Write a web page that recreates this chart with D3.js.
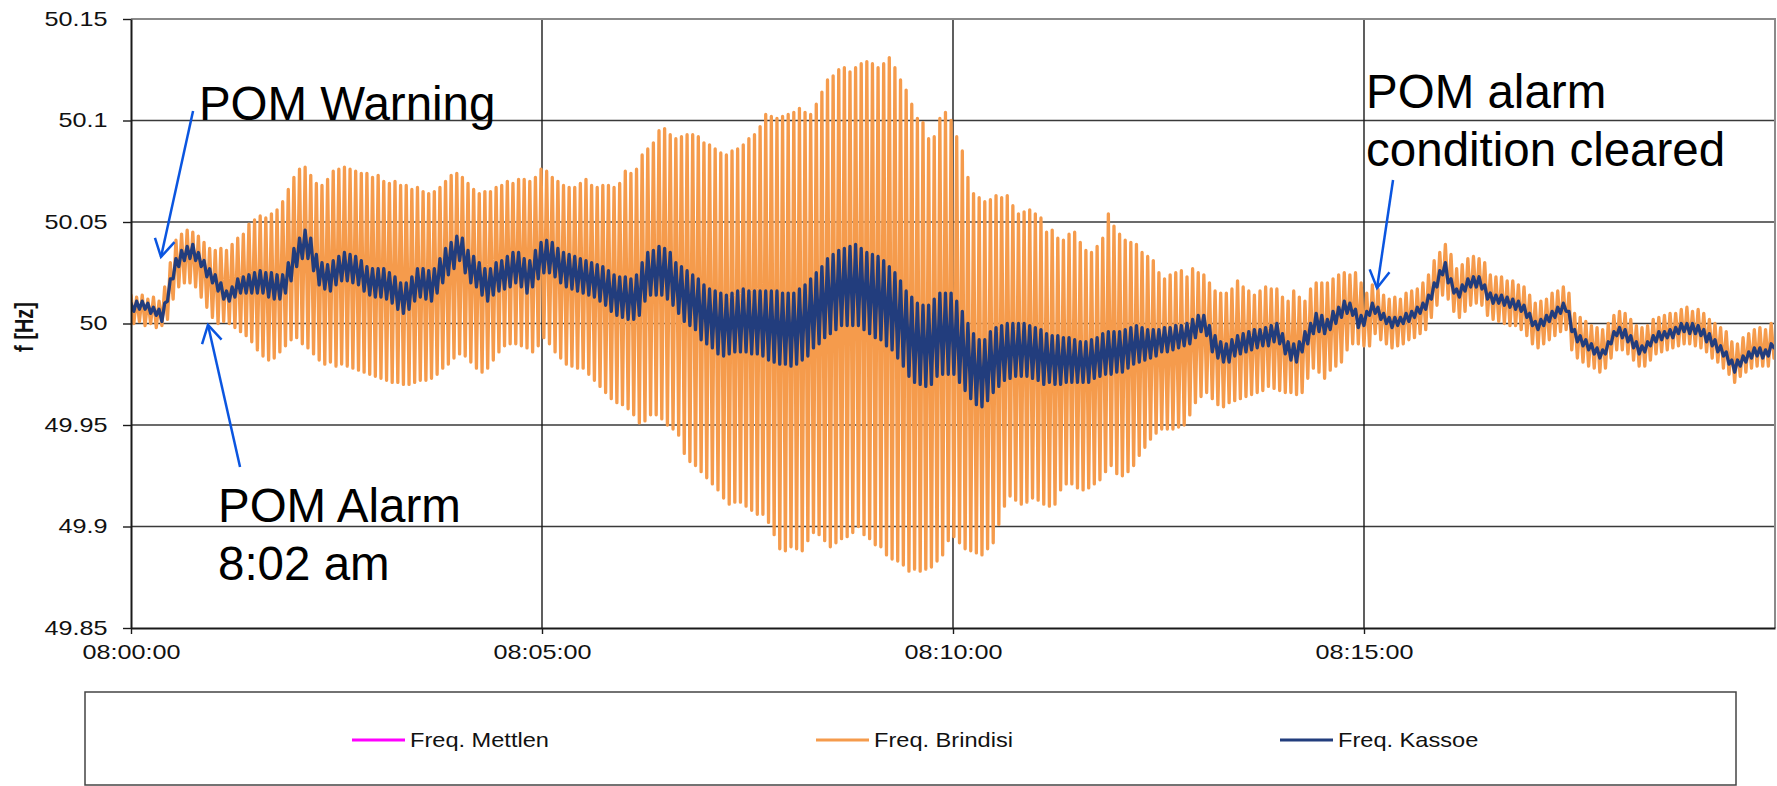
<!DOCTYPE html>
<html><head><meta charset="utf-8">
<script src="https://cdn.jsdelivr.net/npm/d3@7"></script>
<style>
body{margin:0;background:#fff}
svg{display:block}
text{font-family:"Liberation Sans",Arial,sans-serif}
</style>
</head><body>
<svg id="chart" width="1777" height="786"></svg>
<script>
// ---------------- data ----------------
const cycleSeconds = 4.1;            // one oscillation: a peak then a trough
const seriesNames = ["Freq. Mettlen", "Freq. Brindisi", "Freq. Kassoe"];
const seriesColors = ["#FF00FF", "#F59B4C", "#223D7D"];
const yTickValues = [49.85, 49.9, 49.95, 50, 50.05, 50.1, 50.15];
const xTickSeconds = [0, 300, 600, 900];
const xTickLabels = ["08:00:00", "08:05:00", "08:10:00", "08:15:00"];

const brindisiPeak = [
50.014,50.013,50.014,50.012,50.013,50.011,50.018,50.030,50.041,50.044,
50.046,50.045,50.043,50.040,50.037,50.036,50.037,50.036,50.039,50.042,
50.044,50.049,50.051,50.053,50.052,50.054,50.056,50.060,50.066,50.072,
50.076,50.077,50.073,50.069,50.068,50.071,50.075,50.076,50.077,50.076,
50.075,50.074,50.074,50.072,50.073,50.070,50.069,50.070,50.068,50.068,
50.066,50.067,50.065,50.064,50.065,50.067,50.070,50.073,50.074,50.072,
50.069,50.066,50.064,50.065,50.065,50.067,50.068,50.070,50.069,50.071,
50.071,50.070,50.072,50.076,50.075,50.072,50.070,50.068,50.067,50.067,
50.069,50.071,50.068,50.067,50.068,50.068,50.067,50.069,50.075,50.074,
50.076,50.083,50.086,50.089,50.095,50.096,50.093,50.091,50.092,50.093,
50.093,50.092,50.089,50.088,50.086,50.084,50.083,50.085,50.086,50.088,
50.091,50.093,50.097,50.103,50.102,50.101,50.102,50.103,50.104,50.106,
50.104,50.103,50.108,50.114,50.120,50.122,50.125,50.126,50.124,50.126,
50.128,50.129,50.128,50.126,50.128,50.131,50.126,50.120,50.115,50.108,
50.101,50.099,50.091,50.092,50.101,50.104,50.100,50.092,50.085,50.072,
50.064,50.062,50.060,50.061,50.063,50.062,50.063,50.058,50.054,50.055,
50.056,50.054,50.052,50.045,50.046,50.042,50.041,50.044,50.045,50.040,
50.036,50.035,50.038,50.042,50.054,50.048,50.044,50.041,50.040,50.039,
50.035,50.033,50.031,50.025,50.022,50.024,50.025,50.026,50.023,50.027,
50.025,50.024,50.020,50.016,50.015,50.015,50.017,50.021,50.018,50.016,
50.014,50.016,50.018,50.017,50.017,50.013,50.011,50.016,50.013,50.011,
50.017,50.020,50.020,50.020,50.022,50.024,50.025,50.024,50.025,50.020,
50.015,50.019,50.017,50.014,50.012,50.013,50.012,50.015,50.016,50.017,
50.020,50.024,50.031,50.035,50.039,50.034,50.027,50.029,50.032,50.033,
50.032,50.030,50.024,50.023,50.023,50.021,50.021,50.019,50.018,50.014,
50.010,50.011,50.012,50.015,50.016,50.018,50.015,50.005,50.003,50.001,
49.999,49.998,49.997,50.000,50.004,50.006,50.005,50.002,49.999,49.998,
49.999,50.002,50.003,50.004,50.005,50.005,50.007,50.008,50.006,50.007,
50.005,50.002,50.000,49.998,49.996,49.991,49.990,49.993,49.995,49.997,
49.998,49.997,50.000];

const brindisiTrough = [
50.000,50.001,49.999,50.000,49.998,49.999,50.002,50.012,50.018,50.020,
50.020,50.018,50.013,50.008,50.003,50.000,50.001,50.000,49.998,49.996,
49.994,49.991,49.987,49.984,49.982,49.983,49.986,49.989,49.992,49.993,
49.990,49.988,49.985,49.982,49.980,49.981,49.979,49.980,49.979,49.978,
49.977,49.976,49.975,49.974,49.973,49.972,49.971,49.971,49.970,49.970,
49.971,49.972,49.972,49.973,49.975,49.978,49.980,49.983,49.985,49.984,
49.981,49.978,49.976,49.978,49.982,49.986,49.989,49.990,49.990,49.989,
49.988,49.986,49.989,49.993,49.990,49.986,49.983,49.980,49.979,49.978,
49.978,49.975,49.972,49.969,49.966,49.963,49.961,49.960,49.958,49.955,
49.951,49.952,49.955,49.955,49.953,49.950,49.948,49.945,49.936,49.932,
49.930,49.927,49.924,49.921,49.918,49.914,49.911,49.912,49.912,49.910,
49.908,49.906,49.906,49.902,49.896,49.889,49.888,49.890,49.889,49.888,
49.893,49.897,49.896,49.893,49.890,49.892,49.894,49.895,49.897,49.900,
49.896,49.894,49.891,49.890,49.886,49.884,49.883,49.881,49.878,49.879,
49.878,49.879,49.880,49.883,49.886,49.893,49.895,49.892,49.889,49.888,
49.887,49.886,49.889,49.892,49.901,49.910,49.915,49.913,49.911,49.912,
49.914,49.913,49.911,49.910,49.911,49.918,49.921,49.921,49.919,49.918,
49.919,49.921,49.923,49.927,49.930,49.926,49.925,49.927,49.930,49.935,
49.939,49.943,49.946,49.948,49.948,49.948,49.949,49.950,49.955,49.961,
49.964,49.966,49.963,49.960,49.959,49.961,49.962,49.963,49.964,49.965,
49.966,49.967,49.969,49.968,49.967,49.966,49.966,49.965,49.966,49.973,
49.978,49.976,49.973,49.977,49.979,49.981,49.987,49.990,49.990,49.989,
49.989,49.995,49.992,49.990,49.988,49.989,49.990,49.992,49.993,49.995,
49.997,50.003,50.009,50.014,50.012,50.006,50.003,50.006,50.009,50.010,
50.009,50.004,50.002,50.001,50.000,49.999,49.999,49.997,49.994,49.990,
49.988,49.990,49.992,49.994,49.996,49.997,49.987,49.983,49.981,49.979,
49.978,49.976,49.978,49.983,49.987,49.987,49.985,49.982,49.979,49.979,
49.982,49.985,49.986,49.987,49.988,49.989,49.990,49.990,49.989,49.988,
49.986,49.983,49.981,49.978,49.975,49.971,49.974,49.976,49.978,49.979,
49.979,49.979,49.983];

const kassoePeak = [
50.010,50.011,50.011,50.010,50.008,50.007,50.010,50.022,50.032,50.036,
50.038,50.039,50.035,50.031,50.027,50.024,50.020,50.016,50.018,50.022,
50.023,50.024,50.025,50.026,50.025,50.025,50.024,50.024,50.030,50.037,
50.042,50.046,50.042,50.034,50.030,50.029,50.031,50.033,50.035,50.034,
50.033,50.031,50.028,50.027,50.027,50.027,50.025,50.023,50.020,50.020,
50.023,50.027,50.027,50.026,50.027,50.032,50.037,50.040,50.043,50.042,
50.036,50.033,50.030,50.027,50.027,50.030,50.031,50.033,50.035,50.035,
50.032,50.031,50.036,50.040,50.041,50.040,50.037,50.035,50.034,50.033,
50.032,50.031,50.030,50.029,50.028,50.026,50.024,50.023,50.023,50.022,
50.024,50.030,50.035,50.036,50.038,50.037,50.035,50.030,50.028,50.026,
50.024,50.022,50.019,50.017,50.016,50.015,50.014,50.015,50.016,50.017,
50.016,50.016,50.016,50.016,50.016,50.016,50.015,50.015,50.015,50.017,
50.019,50.022,50.025,50.028,50.032,50.034,50.036,50.037,50.038,50.039,
50.037,50.035,50.034,50.033,50.031,50.028,50.025,50.021,50.016,50.013,
50.010,50.009,50.009,50.012,50.015,50.015,50.015,50.011,50.006,50.000,
49.995,49.992,49.992,49.996,49.998,49.999,50.000,50.000,50.000,50.000,
49.999,49.998,49.997,49.995,49.994,49.994,49.993,49.993,49.992,49.991,
49.991,49.992,49.993,49.995,49.996,49.996,49.996,49.997,49.998,49.999,
49.998,49.997,49.997,49.997,49.998,49.998,49.999,49.999,50.000,50.002,
50.004,50.004,49.999,49.994,49.991,49.990,49.992,49.994,49.995,49.996,
49.997,49.997,49.998,49.999,50.000,49.995,49.991,49.990,49.991,49.996,
50.000,50.005,50.004,50.002,50.006,50.008,50.011,50.010,50.007,50.004,
50.006,50.010,50.008,50.005,50.003,50.003,50.003,50.005,50.006,50.008,
50.010,50.014,50.020,50.026,50.030,50.022,50.017,50.019,50.022,50.023,
50.023,50.019,50.015,50.014,50.014,50.013,50.012,50.011,50.009,50.005,
50.001,50.002,50.004,50.006,50.008,50.010,50.006,49.997,49.994,49.992,
49.990,49.988,49.987,49.991,49.996,49.998,49.997,49.994,49.991,49.989,
49.991,49.994,49.996,49.996,49.997,49.998,50.000,50.000,50.000,49.999,
49.997,49.995,49.992,49.989,49.986,49.982,49.982,49.984,49.986,49.988,
49.988,49.987,49.990];

const kassoeTrough = [
50.006,50.007,50.007,50.005,50.004,50.001,50.011,50.022,50.028,50.031,
50.032,50.031,50.028,50.023,50.020,50.016,50.012,50.011,50.013,50.015,
50.015,50.015,50.015,50.015,50.013,50.012,50.012,50.015,50.021,50.028,
50.032,50.032,50.026,50.019,50.017,50.016,50.019,50.021,50.021,50.020,
50.019,50.016,50.014,50.013,50.013,50.012,50.010,50.007,50.005,50.007,
50.011,50.013,50.012,50.011,50.015,50.020,50.024,50.027,50.031,50.025,
50.020,50.018,50.014,50.011,50.014,50.016,50.017,50.018,50.020,50.018,
50.015,50.018,50.022,50.025,50.025,50.023,50.020,50.018,50.017,50.016,
50.015,50.014,50.013,50.011,50.009,50.006,50.004,50.003,50.002,50.002,
50.004,50.011,50.014,50.014,50.014,50.012,50.009,50.005,50.001,49.999,
49.997,49.992,49.990,49.988,49.985,49.984,49.985,49.986,49.986,49.986,
49.985,49.985,49.984,49.982,49.981,49.980,49.980,49.979,49.980,49.982,
49.984,49.988,49.990,49.993,49.995,49.997,49.999,49.999,49.999,49.999,
49.997,49.995,49.993,49.992,49.989,49.987,49.983,49.979,49.974,49.971,
49.970,49.969,49.970,49.974,49.975,49.975,49.975,49.971,49.967,49.963,
49.960,49.959,49.962,49.966,49.969,49.972,49.973,49.974,49.974,49.974,
49.973,49.972,49.970,49.971,49.970,49.970,49.971,49.971,49.971,49.971,
49.971,49.973,49.974,49.975,49.975,49.976,49.976,49.978,49.980,49.981,
49.982,49.983,49.984,49.986,49.986,49.987,49.988,49.989,49.990,49.993,
49.996,49.994,49.986,49.983,49.981,49.981,49.984,49.985,49.986,49.987,
49.988,49.989,49.989,49.991,49.990,49.985,49.982,49.981,49.986,49.990,
49.995,49.996,49.995,49.997,50.000,50.003,50.005,50.004,49.998,49.999,
50.004,50.005,50.002,50.000,49.998,49.999,50.000,50.001,50.003,50.005,
50.007,50.012,50.018,50.024,50.020,50.015,50.013,50.016,50.018,50.018,
50.017,50.012,50.010,50.010,50.009,50.008,50.007,50.006,50.003,49.999,
49.997,49.999,50.001,50.003,50.005,50.006,49.996,49.991,49.989,49.987,
49.985,49.983,49.985,49.990,49.994,49.993,49.991,49.988,49.985,49.986,
49.989,49.991,49.992,49.993,49.993,49.995,49.996,49.995,49.995,49.994,
49.991,49.989,49.986,49.984,49.980,49.976,49.979,49.981,49.983,49.984,
49.983,49.984,49.988];

// Mettlen is hidden almost entirely beneath Kassoe in the reference.
const mettlenPeak = kassoePeak;
const mettlenTrough = kassoeTrough;

// annotations, anchored in chart coordinates (seconds after 08:00, Hz)
const annotations = [
  {lines: ["POM Warning"], t: 49.6, v: 50.1003, from: [45.3, 50.1047], to: [21.9, 50.0328]},
  {lines: ["POM Alarm", "8:02 am"], t: 63.5, v: 49.9022, from: [79.6, 49.9293], to: [56.2, 49.9993]},
  {lines: ["POM alarm", "condition cleared"], t: 901.5, v: 50.1062, from: [921.2, 50.0707], to: [909.5, 50.0175]}
];

// ---------------- drawing ----------------
const svg = d3.select("#chart");
const x = d3.scaleLinear().domain([0, 1200]).range([131, 1775]);
const y = d3.scaleLinear().domain([49.85, 50.15]).range([628, 19]);
const FONT = '"Liberation Sans", Arial, sans-serif';

// gridlines
svg.append("g").selectAll("line").data(yTickValues.slice(1, -1)).join("line")
  .attr("x1", x(0)).attr("x2", x(1200)).attr("y1", d => y(d)).attr("y2", d => y(d))
  .attr("stroke", "#3a3a3a").attr("stroke-width", 1.4);
svg.append("g").selectAll("line").data(xTickSeconds.slice(1)).join("line")
  .attr("x1", d => x(d)).attr("x2", d => x(d)).attr("y1", y(50.15)).attr("y2", y(49.85))
  .attr("stroke", "#1a1a1a").attr("stroke-width", 1.4);

// clip for the data
svg.append("clipPath").attr("id", "plotclip").append("rect")
  .attr("x", x(0)).attr("y", y(50.15)).attr("width", x(1200) - x(0)).attr("height", y(49.85) - y(50.15));

function toSeries(peaks, troughs) {
  const pts = [];
  peaks.forEach((p, i) => {
    pts.push({t: i * cycleSeconds, v: p});
    pts.push({t: i * cycleSeconds + cycleSeconds / 2, v: troughs[i]});
  });
  return pts;
}
const series = [
  toSeries(mettlenPeak, mettlenTrough),
  toSeries(brindisiPeak, brindisiTrough),
  toSeries(kassoePeak, kassoeTrough)
];
const widths = [2.5, 3.3, 3.3];
const line = d3.line().x(d => x(d.t)).y(d => y(d.v));
const dataG = svg.append("g").attr("clip-path", "url(#plotclip)");
series.forEach((s, i) => {
  dataG.append("path").datum(s).attr("d", line).attr("fill", "none")
    .attr("stroke", seriesColors[i]).attr("stroke-width", widths[i])
    .attr("stroke-linejoin", "round").attr("stroke-linecap", "round");
});

// frame (top/right)
svg.append("path")
  .attr("d", `M${x(0)},${y(50.15)}H${x(1200)}V${y(49.85)}`)
  .attr("fill", "none").attr("stroke", "#8a8a8a").attr("stroke-width", 2);

// x axis
const gx = svg.append("g").attr("transform", `translate(0,${y(49.85)})`)
  .call(d3.axisBottom(x).tickValues(xTickSeconds).tickFormat((d, i) => xTickLabels[i]).tickSize(6).tickSizeOuter(0))
  .attr("font-family", FONT).attr("font-size", 20);
gx.select(".domain").attr("stroke", "#1a1a1a").attr("stroke-width", 2);
gx.selectAll(".tick line").attr("stroke", "#1a1a1a").attr("stroke-width", 1.4);
gx.selectAll(".tick text").attr("y", 0).attr("dy", 0)
  .attr("transform", "translate(0,31) scale(1.26,1)").attr("fill", "#111");

// y axis
const gy = svg.append("g").attr("transform", `translate(${x(0)},0)`)
  .call(d3.axisLeft(y).tickValues(yTickValues).tickFormat(d => String(d)).tickSize(8).tickSizeOuter(0))
  .attr("font-family", FONT).attr("font-size", 20);
gy.select(".domain").attr("stroke", "#1a1a1a").attr("stroke-width", 2);
gy.selectAll(".tick line").attr("stroke", "#1a1a1a").attr("stroke-width", 1.4);
gy.selectAll(".tick text").attr("x", 0).attr("dy", "0.32em")
  .attr("transform", "translate(-23.5,0) scale(1.26,1)").attr("fill", "#111");

// y axis title
svg.append("text").attr("transform", "translate(24,327) scale(1.25,1) rotate(-90)")
  .attr("text-anchor", "middle").attr("dy", "0.35em")
  .attr("font-size", 20).attr("font-weight", "bold").attr("fill", "#111").text("f [Hz]");

// legend
svg.append("rect").attr("x", 85).attr("y", 692).attr("width", 1651).attr("height", 93)
  .attr("fill", "#fff").attr("stroke", "#444").attr("stroke-width", 1.5);
const leg = svg.append("g").selectAll("g").data(seriesNames).join("g")
  .attr("transform", (d, i) => `translate(${352 + i * 464},740)`);
leg.append("line").attr("x1", 0).attr("x2", 53).attr("y1", 0).attr("y2", 0)
  .attr("stroke", (d, i) => seriesColors[i]).attr("stroke-width", 3);
leg.append("text").attr("transform", "translate(58,7) scale(1.18,1)")
  .attr("font-size", 20).attr("fill", "#111").text(d => d);

// annotations
const arrowColor = "#0A55E0";
annotations.forEach(a => {
  const tx = x(a.t), ty = y(a.v);
  const txt = svg.append("text").attr("font-size", 47.5).attr("fill", "#000");
  a.lines.forEach((l, i) => txt.append("tspan").attr("x", tx).attr("y", ty + i * 58).text(l));
  const fx = x(a.from[0]), fy = y(a.from[1]), px = x(a.to[0]), py = y(a.to[1]);
  svg.append("line").attr("x1", fx).attr("y1", fy).attr("x2", px).attr("y2", py)
    .attr("stroke", arrowColor).attr("stroke-width", 2.5);
  const ang = Math.atan2(fy - py, fx - px), L = 20, da = Math.PI / 6;
  const p1 = [px + L * Math.cos(ang - da), py + L * Math.sin(ang - da)];
  const p2 = [px + L * Math.cos(ang + da), py + L * Math.sin(ang + da)];
  svg.append("path").attr("d", `M${p1[0]},${p1[1]}L${px},${py}L${p2[0]},${p2[1]}`)
    .attr("fill", "none").attr("stroke", arrowColor).attr("stroke-width", 2.5)
    .attr("stroke-linejoin", "miter");
});
</script>
</body></html>
